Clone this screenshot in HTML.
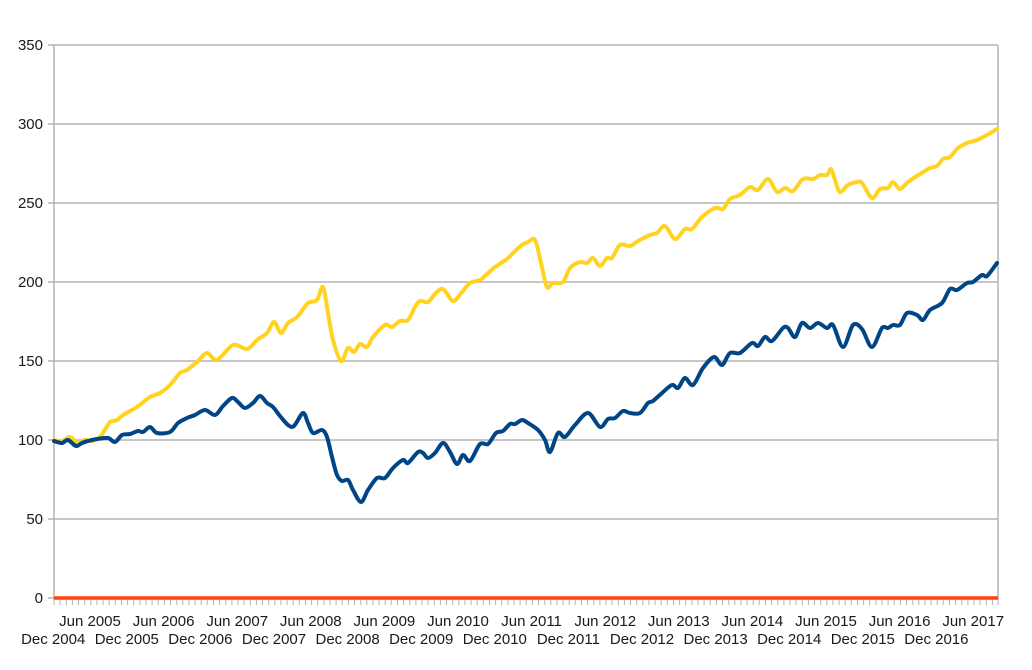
<!DOCTYPE html>
<html>
<head>
<meta charset="utf-8">
<style>
html,body{margin:0;padding:0;background:#fff;}
svg{display:block;}
text{font-family:"Liberation Sans",Arial,sans-serif;font-size:15px;fill:#1a1a1a;}
</style>
</head>
<body>
<svg width="1032" height="670" viewBox="0 0 1032 670" xmlns="http://www.w3.org/2000/svg">
<rect width="1032" height="670" fill="#fff"/>
<!-- gridlines -->
<g stroke="#b3b3b3" stroke-width="1.5">
<line x1="48" y1="45" x2="998" y2="45"/>
<line x1="48" y1="124" x2="998" y2="124"/>
<line x1="48" y1="203" x2="998" y2="203"/>
<line x1="48" y1="282" x2="998" y2="282"/>
<line x1="48" y1="361" x2="998" y2="361"/>
<line x1="48" y1="440" x2="998" y2="440"/>
<line x1="48" y1="519" x2="998" y2="519"/>
<line x1="48" y1="598" x2="54" y2="598"/>
<line x1="54" y1="45" x2="54" y2="600"/>
<line x1="998" y1="45" x2="998" y2="600"/>
</g>
<!-- x minor ticks -->
<g stroke="#b3b3b3" stroke-width="1">
<path d="M54,599v6M60.1,599v6M66.3,599v6M72.4,599v6M78.5,599v6M84.7,599v6M90.8,599v6M96.9,599v6M103.1,599v6M109.2,599v6M115.3,599v6M121.5,599v6M127.6,599v6M133.7,599v6M139.9,599v6M146,599v6M152.1,599v6M158.3,599v6M164.4,599v6M170.5,599v6M176.7,599v6M182.8,599v6M188.9,599v6M195.1,599v6M201.2,599v6M207.3,599v6M213.5,599v6M219.6,599v6M225.7,599v6M231.9,599v6M238,599v6M244.1,599v6M250.3,599v6M256.4,599v6M262.5,599v6M268.7,599v6M274.8,599v6M280.9,599v6M287.1,599v6M293.2,599v6M299.3,599v6M305.5,599v6M311.6,599v6M317.7,599v6M323.9,599v6M330,599v6M336.1,599v6M342.3,599v6M348.4,599v6M354.5,599v6M360.7,599v6M366.8,599v6M372.9,599v6M379.1,599v6M385.2,599v6M391.3,599v6M397.5,599v6M403.6,599v6M409.7,599v6M415.9,599v6M422,599v6M428.1,599v6M434.3,599v6M440.4,599v6M446.5,599v6M452.7,599v6M458.8,599v6M464.9,599v6M471.1,599v6M477.2,599v6M483.3,599v6M489.5,599v6M495.6,599v6M501.7,599v6M507.9,599v6M514,599v6M520.1,599v6M526.3,599v6M532.4,599v6M538.5,599v6M544.7,599v6M550.8,599v6M556.9,599v6M563.1,599v6M569.2,599v6M575.3,599v6M581.5,599v6M587.6,599v6M593.7,599v6M599.9,599v6M606,599v6M612.1,599v6M618.3,599v6M624.4,599v6M630.5,599v6M636.7,599v6M642.8,599v6M648.9,599v6M655.1,599v6M661.2,599v6M667.3,599v6M673.5,599v6M679.6,599v6M685.7,599v6M691.9,599v6M698,599v6M704.1,599v6M710.3,599v6M716.4,599v6M722.5,599v6M728.7,599v6M734.8,599v6M740.9,599v6M747.1,599v6M753.2,599v6M759.3,599v6M765.5,599v6M771.6,599v6M777.7,599v6M783.9,599v6M790,599v6M796.1,599v6M802.3,599v6M808.4,599v6M814.5,599v6M820.7,599v6M826.8,599v6M832.9,599v6M839.1,599v6M845.2,599v6M851.3,599v6M857.5,599v6M863.6,599v6M869.7,599v6M875.9,599v6M882,599v6M888.1,599v6M894.3,599v6M900.4,599v6M906.5,599v6M912.7,599v6M918.8,599v6M924.9,599v6M931.1,599v6M937.2,599v6M943.3,599v6M949.5,599v6M955.6,599v6M961.7,599v6M967.9,599v6M974,599v6M980.1,599v6M986.3,599v6M992.4,599v6M998,599v6"/>
</g>
<!-- y labels -->
<g text-anchor="end">
<text x="43" y="50">350</text>
<text x="43" y="129">300</text>
<text x="43" y="208">250</text>
<text x="43" y="287">200</text>
<text x="43" y="366">150</text>
<text x="43" y="445">100</text>
<text x="43" y="524">50</text>
<text x="43" y="603">0</text>
</g>
<!-- x labels -->
<g text-anchor="middle">
<text x="90" y="626">Jun 2005</text>
<text x="163.6" y="626">Jun 2006</text>
<text x="237.2" y="626">Jun 2007</text>
<text x="310.8" y="626">Jun 2008</text>
<text x="384.4" y="626">Jun 2009</text>
<text x="458" y="626">Jun 2010</text>
<text x="531.6" y="626">Jun 2011</text>
<text x="605.2" y="626">Jun 2012</text>
<text x="678.8" y="626">Jun 2013</text>
<text x="752.4" y="626">Jun 2014</text>
<text x="826" y="626">Jun 2015</text>
<text x="899.6" y="626">Jun 2016</text>
<text x="973.2" y="626">Jun 2017</text>
<text x="53.2" y="644">Dec 2004</text>
<text x="126.8" y="644">Dec 2005</text>
<text x="200.4" y="644">Dec 2006</text>
<text x="274" y="644">Dec 2007</text>
<text x="347.6" y="644">Dec 2008</text>
<text x="421.2" y="644">Dec 2009</text>
<text x="494.8" y="644">Dec 2010</text>
<text x="568.4" y="644">Dec 2011</text>
<text x="642" y="644">Dec 2012</text>
<text x="715.6" y="644">Dec 2013</text>
<text x="789.2" y="644">Dec 2014</text>
<text x="862.8" y="644">Dec 2015</text>
<text x="936.4" y="644">Dec 2016</text>
</g>
<!-- red series -->
<line x1="54" y1="598" x2="998" y2="598" stroke="#ff420e" stroke-width="3.5"/>
<!-- yellow series -->
<polyline class="smooth" fill="none" stroke="#ffd320" stroke-width="4" stroke-linejoin="round" stroke-linecap="round"
points="54,440 62,441 70,437 78,443 85,440 92,441 100,437 106,428 110,422 117,420 123,415 137,407 150,397 160,393 170,385 180,373 187,370 197,362 207,353 217,360 233,345 247,349 257,340 267,333 274,322 281,333 288,323 297,317 308,303 317,300 323,287 328,313 333,340 341,361 348,348 354,352 360,344 367,347 373,337 385,325 392,327 400,321 408,320 415,307 420,301 428,302 435,294 443,289 453,301 462,292 470,283 480,280 487,274 495,267 507,259 513,253 522,245 528,242 535,240 541,263 547,287 553,283 563,282 570,268 580,262 587,263 593,258 600,266 607,258 612,258 620,245 630,246 638,241 650,235 657,233 665,226 675,239 685,229 692,229 702,217 715,208 723,209 730,199 740,195 750,187 758,190 768,179 777,192 785,188 793,191 803,179 813,179 820,175 827,175 831,169 835,180 840,192 848,185 857,182 862,183 872,198 880,189 888,188 893,182 900,189 908,182 920,174 930,168 937,166 943,159 950,157 958,148 967,143 977,140 987,135 997,129"/>
<!-- blue series -->
<polyline class="smooth" fill="none" stroke="#004586" stroke-width="4" stroke-linejoin="round" stroke-linecap="round"
points="54,441 62,443 68,440 76,446 82,443 88,441 97,439 108,438 115,442 122,435 130,434 138,431 143,432 150,427 157,433 170,432 178,423 187,418 195,415 205,410 215,415 223,406 232,398 238,402 245,408 253,403 260,396 267,403 273,407 280,416 288,425 294,426 303,413 308,423 313,433 322,430 327,437 332,457 337,475 342,481 348,480 353,490 361,502 368,490 377,478 385,478 393,468 403,460 408,463 418,452 423,453 428,458 435,453 443,443 450,452 457,464 463,455 470,461 480,444 488,444 496,433 503,431 510,424 515,424 522,420 528,423 538,430 545,440 550,452 558,433 565,437 575,425 588,413 600,427 608,419 615,418 623,411 630,413 640,413 648,403 653,401 662,393 672,385 678,388 685,378 693,385 703,368 714,357 722,365 730,353 740,353 752,343 758,346 765,337 772,341 783,328 788,328 795,337 802,323 810,328 818,323 827,328 833,325 843,347 853,325 862,329 872,347 882,328 888,328 893,325 900,325 907,313 917,315 923,320 930,310 942,303 950,289 957,290 967,283 973,282 982,275 987,276 997,263"/>
</svg>
<script>
(function(){
  var ns="http://www.w3.org/2000/svg";
  var pls=document.querySelectorAll("polyline.smooth");
  for(var k=0;k<pls.length;k++){
    var pl=pls[k];
    var pts=pl.getAttribute("points").trim().split(/\s+/).map(function(s){var a=s.split(",");return [+a[0],+a[1]];});
    var d="M"+pts[0][0]+","+pts[0][1];
    for(var i=0;i<pts.length-1;i++){
      var p0=pts[i>0?i-1:i],p1=pts[i],p2=pts[i+1],p3=pts[i+2<pts.length?i+2:i+1];
      var t=0.16;
      var c1x=p1[0]+(p2[0]-p0[0])*t,c1y=p1[1]+(p2[1]-p0[1])*t;
      var c2x=p2[0]-(p3[0]-p1[0])*t,c2y=p2[1]-(p3[1]-p1[1])*t;
      d+=" C"+c1x.toFixed(1)+","+c1y.toFixed(1)+" "+c2x.toFixed(1)+","+c2y.toFixed(1)+" "+p2[0]+","+p2[1];
    }
    var p=document.createElementNS(ns,"path");
    p.setAttribute("d",d);
    p.setAttribute("fill","none");
    p.setAttribute("stroke",pl.getAttribute("stroke"));
    p.setAttribute("stroke-width","4");
    p.setAttribute("stroke-linejoin","round");
    p.setAttribute("stroke-linecap","round");
    pl.parentNode.replaceChild(p,pl);
  }
})();
</script>
</body>
</html>
